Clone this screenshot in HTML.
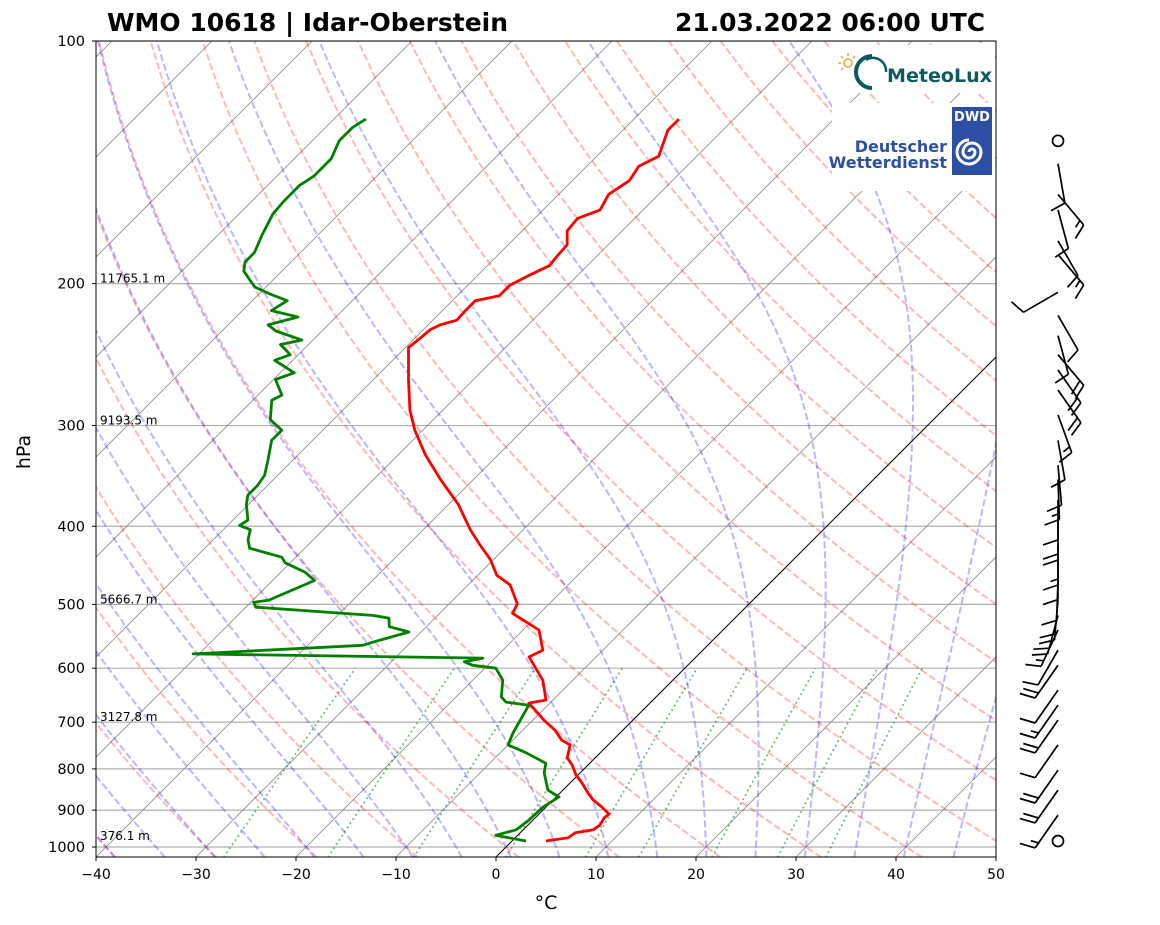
<!DOCTYPE html>
<html><head><meta charset="utf-8">
<style>
html,body{margin:0;padding:0;background:#fff;}
svg{display:block;font-family:"DejaVu Sans","Liberation Sans",sans-serif;}
</style></head>
<body>
<svg id="chart" width="1160" height="925" viewBox="0 0 1160 925" xmlns="http://www.w3.org/2000/svg">
<defs><clipPath id="plotclip"><rect x="96" y="41" width="900" height="816"/></clipPath></defs>
<rect width="1160" height="925" fill="#fff"/>
<g id="bg" clip-path="url(#plotclip)"></g>
<g id="profiles" clip-path="url(#plotclip)"></g>
<g id="logos">
  <rect x="830" y="45" width="165" height="48" fill="#fff"/>
  <g stroke="#f0a830" stroke-width="1.5" fill="none">
    <circle cx="848" cy="63" r="4"/>
    <line x1="848" y1="53" x2="848" y2="56"/><line x1="838" y1="63" x2="841" y2="63"/>
    <line x1="841" y1="56" x2="843" y2="58"/><line x1="855" y1="56" x2="853" y2="58"/>
    <line x1="841" y1="70" x2="843" y2="68"/>
  </g>
  <path d="M872 56 A16 16 0 1 0 872 88" fill="none" stroke="#0d5a5e" stroke-width="4"/>
  <path d="M866 60 A13 13 0 0 1 886 72" fill="none" stroke="#0d5a5e" stroke-width="2.5"/>
  <text x="887" y="82" font-size="19" font-weight="bold" fill="#0d5a5e" textLength="105" lengthAdjust="spacingAndGlyphs">MeteoLux</text>
  <rect x="832" y="103" width="163" height="88" fill="#fff"/>
  <rect x="952" y="107" width="40" height="68" fill="#2d4fa3"/>
  <text x="972" y="121" font-size="13" font-weight="bold" fill="#fff" text-anchor="middle">DWD</text>
  <path d="M972 152 m-3 0 a3 3 0 1 1 6 0 a6 6 0 1 1 -12 0 a9 9 0 1 1 18 0 a12 12 0 1 1 -12 -12" fill="none" stroke="#fff" stroke-width="3"/>
  <text x="947" y="152" font-size="16" font-weight="bold" fill="#2d4fa3" text-anchor="end">Deutscher</text>
  <text x="947" y="168" font-size="16" font-weight="bold" fill="#2d4fa3" text-anchor="end">Wetterdienst</text>
</g>
<rect x="96" y="41" width="900" height="816" fill="none" stroke="#000" stroke-width="1"/>
<g id="axes"></g>
<g id="barbs" stroke="#000" stroke-width="1.7" fill="none"></g>
<text x="107" y="31" font-size="24.5" font-weight="bold" textLength="401" lengthAdjust="spacingAndGlyphs">WMO 10618 | Idar-Oberstein</text>
<text x="985" y="31" font-size="24.5" font-weight="bold" text-anchor="end" textLength="310" lengthAdjust="spacingAndGlyphs">21.03.2022 06:00 UTC</text>
<text x="546" y="909" font-size="19" text-anchor="middle">°C</text>
<text transform="translate(30,452) rotate(-90)" font-size="19" text-anchor="middle">hPa</text>
</svg>
<script>
// ---- data ----
const tempP = [983,974,960,952,939,920,910,891,874,857,833,814,791,775,747,737,716,696,663,657,621,581,570,538,513,499,473,460,440,422,404,376,350,326,304,287,263,240,235,228,225,222,216,210,207,201,195,190,184,179,172,166,162,155,149,143,139,129,125];
const tempT = [3.4,5.3,5.5,7.0,7.2,6.9,7.0,5.5,4.0,2.8,1.2,-0.2,-1.6,-2.8,-3.8,-5.1,-6.8,-8.9,-12.1,-10.7,-13.0,-16.7,-16.0,-18.4,-22.7,-23.2,-25.8,-28.1,-30.3,-32.8,-35.3,-39.0,-43.3,-47.3,-50.8,-53.3,-56.5,-59.7,-59.5,-59.3,-58.8,-57.6,-57.7,-57.7,-55.8,-55.8,-54.8,-53.8,-54.0,-54.1,-55.5,-55.7,-54.3,-55.0,-54.3,-54.8,-53.8,-55.5,-55.5];
const dewP = [983,967,952,926,892,867,850,809,787,764,747,722,667,661,651,621,600,595,589,583,576,573,562,557,541,533,520,516,504,497,494,467,456,444,437,431,426,416,404,399,393,376,366,356,346,331,313,304,295,279,275,263,258,249,245,238,235,229,225,220,216,210,206,202,198,193,188,183,174,164,158,151,147,140,133,128,125];
const dewT = [1.4,-2.2,-0.7,-0.4,-0.3,0.3,-1.5,-3.6,-4.4,-7.4,-10.0,-10.7,-11.9,-14.5,-15.5,-17.0,-18.9,-21.5,-22.7,-21.2,-50.6,-47.2,-34.5,-33.8,-31.2,-33.7,-34.6,-36.5,-49.0,-49.7,-48.4,-45.8,-47.6,-50.5,-51.4,-53.6,-55.5,-56.5,-57.3,-58.8,-58.5,-60.2,-61.0,-61.0,-61.3,-62.5,-64.1,-64.1,-66.3,-68.1,-67.6,-69.8,-68.6,-71.8,-70.8,-72.8,-71.1,-74.6,-76.0,-73.8,-77.1,-76.5,-78.9,-81.1,-82.3,-83.8,-84.6,-84.6,-85.6,-86.6,-86.8,-86.8,-86.3,-86.3,-87.3,-87.3,-86.8];
const windP = [133,142,155,162,177,184,205,219,232,245,256,271,291,313,336,350,371,393,422,440,467,494,516,538,570,595,639,667,696,747,803,850,913,983];
const windDir = [0,170,140,165,150,140,240,150,165,140,145,145,160,170,175,178,180,180,180,180,182,185,195,205,210,215,215,215,215,215,215,215,215,0];
const windSpd = [0,10,15,10,10,15,10,10,10,20,20,20,15,10,10,15,10,20,15,10,10,20,20,15,10,20,10,15,20,10,20,20,15,0];
const pressureTicks = [100,200,300,400,500,600,700,800,900,1000];
const tempTicks = [-40,-30,-20,-10,0,10,20,30,40,50];
const heightP = [200,300,500,700,983];
const heightLabels = ["11765.1 m","9193.5 m","5666.7 m","3127.8 m","376.1 m"];
const mixRatios = [0.0004,0.001,0.002,0.004,0.007,0.01,0.016,0.024,0.032];

// ---- axis functions ----
const NS = "http://www.w3.org/2000/svg";
function yOf(p){ return 41 + 806*Math.log10(p/100); }
function xOf(T,p){ return 96 + (T+40)*10 + (857 - yOf(p)); }
function mk(tag, attrs, parent){ const e=document.createElementNS(NS,tag); for(const k in attrs) e.setAttribute(k,attrs[k]); parent.appendChild(e); return e; }
function pathFrom(pts){ return pts.map((q,i)=>(i?'L':'M')+q[0].toFixed(1)+' '+q[1].toFixed(1)).join(''); }
const bg=document.getElementById('bg'), prof=document.getElementById('profiles'), axes=document.getElementById('axes'), barbs=document.getElementById('barbs');

pressureTicks.forEach(p=>{
  const y=yOf(p);
  const l=mk('line',{x1:96,x2:996,y1:y,y2:y,stroke:'#b0b0b0','stroke-width':1.2},bg);
  
  
});
for(let T=-140;T<=50;T+=10){
  const l=mk('line',{x1:xOf(T,1030),y1:yOf(1030),x2:xOf(T,100),y2:yOf(100),stroke:T===0?'#000':'#8a8a8a','stroke-width':T===0?1:0.8},bg);
  
  
}
for(let t0=-100;t0<=250;t0+=10){
  const pts=[];
  for(let p=1030;p>=100;p-=10){ const T=(t0+273.15)*Math.pow(p/1000,0.2857)-273.15; pts.push([xOf(T,p),yOf(p)]); }
  const e=mk('path',{d:pathFrom(pts),fill:'none',stroke:'#f00','stroke-opacity':0.28,'stroke-width':2,'stroke-dasharray':'7,3'},bg);
  
  
}
function es(T){ return 6.112*Math.exp(17.67*(T-273.15)/(T-29.65)); }
function dTdp(T,p){ const e=es(T); const rs=0.622*e/(p-e); const Rd=287.04,Cp=1005.7,Lv=2.501e6;
  return (Rd*T+Lv*rs)/(p*(Cp+Lv*Lv*rs*0.622/(Rd*T*T))); }
function integ(T,p0,p1,dp){ const out=[[T,p0]]; let p=p0; const n=Math.round(Math.abs(p1-p0)/dp), h=(p1-p0)/n;
  for(let i=0;i<n;i++){ const k1=dTdp(T,p),k2=dTdp(T+h/2*k1,p+h/2),k3=dTdp(T+h/2*k2,p+h/2),k4=dTdp(T+h*k3,p+h); T+=h/6*(k1+2*k2+2*k3+k4); p+=h; out.push([T,p]); } return out; }
for(let t0=-40;t0<=60;t0+=5){
  const up=integ(t0+273.15,1000,100,5), down=integ(t0+273.15,1000,1030,5);
  const all=down.reverse().concat(up.slice(1));
  const pts=all.map(a=>[xOf(a[0]-273.15,a[1]),yOf(a[1])]);
  const e=mk('path',{d:pathFrom(pts),fill:'none',stroke:'#00f','stroke-opacity':0.28,'stroke-width':2,'stroke-dasharray':'7,3'},bg);
  
  
}
mixRatios.forEach(w=>{
  const pts=[];
  for(let p=1030;p>=600;p-=10){ const e=p*w/(0.622+w); const l=Math.log(e/6.112); const Td=243.5*l/(17.67-l); pts.push([xOf(Td,p),yOf(p)]); }
  const e=mk('path',{d:pathFrom(pts),fill:'none',stroke:'#008000','stroke-opacity':0.55,'stroke-width':1.8,'stroke-dasharray':'1.8,3.2'},bg);
  
  
});
const tp=mk('path',{d:pathFrom(tempP.map((p,i)=>[xOf(tempT[i],p),yOf(p)])),fill:'none',stroke:'#f00','stroke-width':2.8,'stroke-linejoin':'round'},prof);


const dp=mk('path',{d:pathFrom(dewP.map((p,i)=>[xOf(dewT[i],p),yOf(p)])),fill:'none',stroke:'#008000','stroke-width':2.8,'stroke-linejoin':'round'},prof);


heightP.forEach((p,i)=>{
  const t=mk('text',{x:100,y:yOf(p)-1,'font-size':12},prof); t.textContent=heightLabels[i];
  
  
});
pressureTicks.forEach(p=>{
  const y=yOf(p);
  const tk=mk('line',{x1:92,x2:96,y1:y,y2:y,stroke:'#000'},axes);
  
  
  const t=mk('text',{x:85,y:y+5,'font-size':14.5,'text-anchor':'end'},axes); t.textContent=p;
  
  
});
tempTicks.forEach(T=>{
  const x=96+(T+40)*10;
  const tk=mk('line',{x1:x,x2:x,y1:857,y2:861,stroke:'#000'},axes);
  
  
  const t=mk('text',{x:x,y:879,'font-size':14,'text-anchor':'middle'},axes); t.textContent=(T<0?'\u2212':'')+Math.abs(T);
  
  
});
windP.forEach((p,i)=>{
  const bx=1058, by=yOf(p), spd=windSpd[i];
  if(spd===0){ const c=mk('circle',{cx:bx,cy:by,r:5.5},barbs);
    
     return; }
  const th=windDir[i]*Math.PI/180, L=40;
  const ux=Math.sin(th), uy=-Math.cos(th), px=Math.cos(th), py=Math.sin(th);
  let d='M'+bx+' '+by.toFixed(1)+'L'+(bx+ux*L).toFixed(1)+' '+(by+uy*L).toFixed(1);
  let n10=Math.floor(spd/10), n5=Math.round((spd%10)/5), pos=L;
  for(let k=0;k<n10;k++){ const sx=bx+ux*pos, sy=by+uy*pos; d+='M'+sx.toFixed(1)+' '+sy.toFixed(1)+'L'+(sx+px*15+ux*5).toFixed(1)+' '+(sy+py*15+uy*5).toFixed(1); pos-=6; }
  if(n5){ if(n10===0) pos-=6; const sx=bx+ux*pos, sy=by+uy*pos; d+='M'+sx.toFixed(1)+' '+sy.toFixed(1)+'L'+(sx+px*7.5+ux*2.5).toFixed(1)+' '+(sy+py*7.5+uy*2.5).toFixed(1); }
  const b=mk('path',{d:d},barbs);
  
  
});
</script>
</body></html>
